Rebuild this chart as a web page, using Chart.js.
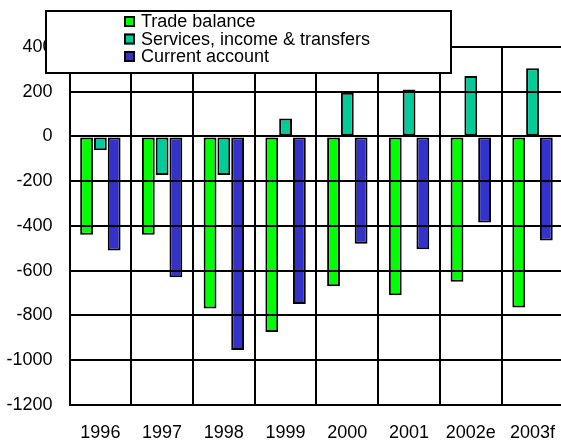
<!DOCTYPE html>
<html>
<head>
<meta charset="utf-8">
<script src="https://cdn.jsdelivr.net/npm/chart.js@4/dist/chart.umd.min.js"></script>
<style>
  html, body { margin: 0; padding: 0; background: #fff; overflow: hidden; }
  canvas { display: block; }
</style>
</head>
<body>
<canvas id="c" width="566" height="441" style="width:566px;height:441px"></canvas>
<script>
const categories = ['1996', '1997', '1998', '1999', '2000', '2001', '2002e', '2003f'];
const tradeBalance = [-440, -440, -770, -875, -670, -710, -650, -765];
const servicesIncomeTransfers = [-62, -172, -172, 80, 195, 210, 270, 305];
const currentAccount = [-510, -630, -955, -750, -480, -505, -385, -465];
const yTicks = [400, 200, 0, -200, -400, -600, -800, -1000, -1200];
const seriesNames = ['Trade balance', 'Services, income & transfers', 'Current account'];
const seriesColors = ['#00FF00', '#00CC99', '#3333CC'];

const FONT = 'Arial, "Liberation Sans", sans-serif';

const legendBox = {
  id: 'legendBox',
  afterDraw(chart) {
    const ctx = chart.ctx;
    ctx.save();
    ctx.fillStyle = '#fff';
    ctx.fillRect(45, 10, 407, 64);
    ctx.strokeStyle = '#000';
    ctx.lineWidth = 2;
    ctx.strokeRect(46, 11, 405, 62);
    const ys = [21.5, 39, 56.5];
    chart.data.datasets.forEach((ds, i) => {
      ctx.fillStyle = ds.backgroundColor;
      ctx.fillRect(124, ys[i] - 5.5, 11, 11);
      ctx.lineWidth = 2;
      ctx.strokeStyle = '#000';
      ctx.strokeRect(125, ys[i] - 4.5, 9, 9);
      ctx.fillStyle = '#000';
      ctx.font = '18px ' + FONT;
      ctx.textBaseline = 'middle';
      ctx.textAlign = 'left';
      ctx.fillText(ds.label, 141, ys[i] + 1);
    });
    ctx.restore();
  }
};

const makeDs = (label, data, color) => ({
  label, data,
  backgroundColor: color,
  borderColor: '#000',
  borderWidth: 2,
  borderSkipped: false,
  categoryPercentage: 0.67,
  barPercentage: 0.93
});

new Chart(document.getElementById('c'), {
  type: 'bar',
  data: {
    labels: categories,
    datasets: [
      makeDs(seriesNames[0], tradeBalance, seriesColors[0]),
      makeDs(seriesNames[1], servicesIncomeTransfers, seriesColors[1]),
      makeDs(seriesNames[2], currentAccount, seriesColors[2])
    ]
  },
  options: {
    responsive: false,
    animation: false,
    devicePixelRatio: 1,
    layout: { padding: { left: 0, right: 2.6, top: 47, bottom: 0 } },
    plugins: {
      legend: { display: false },
      tooltip: { enabled: false }
    },
    scales: {
      x: {
        offset: true,
        grid: { offset: true, color: '#000', lineWidth: 2, drawTicks: false, z: 1 },
        border: { color: '#000', width: 2, z: 1 },
        ticks: { color: '#000', font: { family: FONT, size: 18, lineHeight: '56px' }, padding: 0, maxRotation: 0, autoSkip: false },
        afterFit(scale) { scale.height = 36.3; }
      },
      y: {
        min: -1200,
        max: 400,
        afterBuildTicks(scale) { scale.ticks = yTicks.map(v => ({ value: v })); },
        grid: { color: '#000', lineWidth: 2, drawTicks: false, z: 1 },
        border: { color: '#000', width: 2, z: 1 },
        ticks: {
          color: '#000', font: { family: FONT, size: 18 }, padding: 17,
          callback: (v) => String(v)
        },
        afterFit(scale) { scale.width = 69.5; }
      }
    }
  },
  plugins: [legendBox]
});
</script>
</body>
</html>
